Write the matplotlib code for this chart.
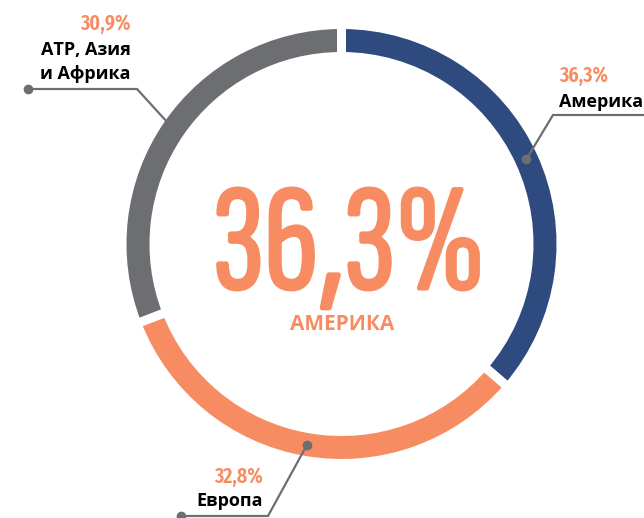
import matplotlib
matplotlib.use("Agg")
import matplotlib.pyplot as plt
import matplotlib.patheffects as pe
import numpy as np

# data
regions = ["Америка", "Европа", "АТР, Азия\nи Африка"]
shares = [36.3, 32.8, 30.9]
share_labels = ["36,3%", "32,8%", "30,9%"]
colors = ["#2e4a7e", "#f78c62", "#6d6e71"]
highlight = "36,3%"
highlight_name = "АМЕРИКА"

W, H = 644, 518
ORANGE = "#f78c62"
GREY = "#6d6e71"
narrow = ["Fira Sans Extra Condensed", "DejaVu Sans"]
big_font = ["Sofia Sans Extra Condensed", "DejaVu Sans"]
label_font = ["Open Sans", "DejaVu Sans"]

fig = plt.figure(figsize=(W / 100, H / 100), dpi=100)
ax = fig.add_axes([0, 0, 1, 1])

cx, cy = 341.5, H - 244
r_out, ring_w, gap = 215, 23, 9
gap_pt = gap * 72 / 100

ax.pie(
    shares,
    colors=colors,
    startangle=90,
    counterclock=False,
    center=(cx, cy),
    radius=r_out + gap / 2,
    wedgeprops=dict(width=ring_w + gap, edgecolor="white", linewidth=gap_pt),
)
ax.set_xlim(0, W)
ax.set_ylim(0, H)
ax.set_aspect("equal")
ax.axis("off")

# dots in the middle of each segment
r_mid = r_out - ring_w / 2
cum = np.cumsum([0] + shares)
mids = (cum[:-1] + cum[1:]) / 2 / sum(shares) * 360
dots = [(cx + r_mid * np.sin(np.radians(a)), cy + r_mid * np.cos(np.radians(a))) for a in mids]

# leader lines: (elbow, end)
leaders = [
    ((553, H - 115), (W + 5, H - 115)),
    ((268, H - 516), (181, H - 516)),
    ((137, H - 89), (28, H - 89)),
]
for (dx, dy), (elbow, end) in zip(dots, leaders):
    ax.plot([dx, elbow[0], end[0]], [dy, elbow[1], end[1]], color=GREY, lw=1.6,
            solid_joinstyle="miter", zorder=3)
    ax.plot([dx, end[0]], [dy, end[1]], "o", color=GREY, ms=6, zorder=4)

pct_kw = dict(color=ORANGE, fontsize=15.5, fontweight="semibold", family=narrow, va="baseline")
name_kw = dict(color="black", fontsize=13, fontweight="bold", family=label_font, va="baseline")

# labels
ax.text(559, H - 82, share_labels[0], ha="left", **pct_kw)
ax.text(559, H - 107, regions[0], ha="left", **name_kw)

ax.text(263, H - 483, share_labels[1], ha="right", **pct_kw)
ax.text(263, H - 506, regions[1], ha="right", **name_kw)

line1, line2 = regions[2].split("\n")
ax.text(131, H - 30, share_labels[2], ha="right", **pct_kw)
ax.text(131, H - 55, line1, ha="right", **name_kw)
ax.text(131, H - 79, line2, ha="right", **name_kw)

# centre
ax.text(349, H - 289, highlight, color=ORANGE, fontsize=110, fontweight="bold",
        family=big_font, ha="center", va="baseline",
        path_effects=[pe.withStroke(linewidth=2.2, foreground=ORANGE)])
ax.text(342, H - 330, highlight_name, color=ORANGE, fontsize=15, fontweight="bold",
        family=label_font, ha="center", va="baseline")

fig.savefig("out.png", dpi=100)
